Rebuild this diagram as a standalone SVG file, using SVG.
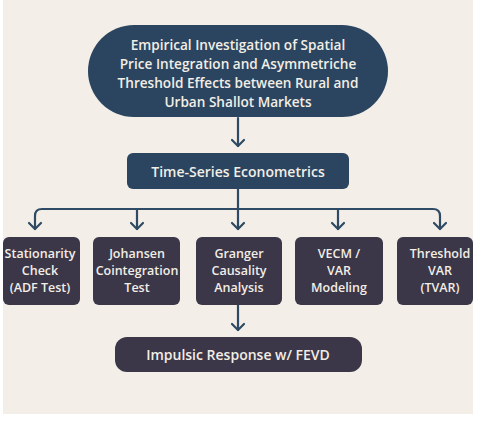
<svg xmlns="http://www.w3.org/2000/svg" width="480" height="421" viewBox="0 0 480 421">
<defs>
<style>
.t{font-family:"Open Sans","Noto Sans","Liberation Sans",sans-serif;font-weight:600;fill:#f2eee6;text-anchor:middle}
.navy{fill:#2b4560}
.purp{fill:#3b3648}
.c{fill:none;stroke:#2e4a64;stroke-width:2.2;stroke-linecap:round;stroke-linejoin:round}
</style>
</defs>
<rect x="0" y="0" width="480" height="421" fill="#ffffff"/>
<rect x="3" y="0" width="470" height="414" fill="#f3efe8"/>
<g id="connectors">
<path class="c" d="M238,118 V146"/>
<path class="c" d="M232,140 L238,146 L244,140"/>
<path class="c" d="M238,189 V209"/>
<path class="c" d="M35,229 V216 Q35,209 42,209 H433 Q440,209 440,216 V229"/>
<path class="c" d="M137,209 V229"/>
<path class="c" d="M238,209 V229"/>
<path class="c" d="M338,209 V229"/>
<path class="c" d="M29,223 L35,229 L41,223"/>
<path class="c" d="M131,223 L137,229 L143,223"/>
<path class="c" d="M232,223 L238,229 L244,223"/>
<path class="c" d="M332,223 L338,229 L344,223"/>
<path class="c" d="M434,223 L440,229 L446,223"/>
<path class="c" d="M238,305 V330"/>
<path class="c" d="M232,324 L238,330 L244,324"/>
</g>
<g id="title">
<rect class="navy" x="88" y="25" width="300" height="92" rx="46"/>
<text class="t" font-size="13.6"><tspan x="238" y="50">Empirical Investigation of Spatial</tspan><tspan x="238" y="69">Price Integration and Asymmetriche</tspan><tspan x="238" y="88">Threshold Effects between Rural and</tspan><tspan x="238" y="107">Urban Shallot Markets</tspan></text>
</g>
<g id="tse">
<rect class="navy" x="127" y="153" width="222" height="36" rx="6"/>
<text class="t" x="238" y="177" font-size="14">Time-Series Econometrics</text>
</g>
<g id="stationarity">
<rect class="purp" x="3" y="237" width="77" height="68" rx="6"/>
<text class="t" font-size="12.5"><tspan x="40" y="258">Stationarity</tspan><tspan x="40" y="275">Check</tspan><tspan x="40" y="292">(ADF Test)</tspan></text>
</g>
<g id="johansen">
<rect class="purp" x="93" y="237" width="87" height="68" rx="6"/>
<text class="t" font-size="12.5"><tspan x="137" y="258">Johansen</tspan><tspan x="137" y="275">Cointegration</tspan><tspan x="137" y="292">Test</tspan></text>
</g>
<g id="granger">
<rect class="purp" x="196" y="237" width="86" height="68" rx="6"/>
<text class="t" font-size="12.5"><tspan x="239" y="258">Granger</tspan><tspan x="239" y="275">Causality</tspan><tspan x="239" y="292">Analysis</tspan></text>
</g>
<g id="vecm">
<rect class="purp" x="295" y="237" width="88" height="68" rx="6"/>
<text class="t" font-size="12.5"><tspan x="339" y="258">VECM /</tspan><tspan x="339" y="275">VAR</tspan><tspan x="339" y="292">Modeling</tspan></text>
</g>
<g id="tvar">
<rect class="purp" x="397" y="237" width="76" height="68" rx="6"/>
<text class="t" font-size="12.5"><tspan x="440" y="258">Threshold</tspan><tspan x="440" y="275">VAR</tspan><tspan x="440" y="292">(TVAR)</tspan></text>
</g>
<g id="impulse">
<rect class="purp" x="115" y="337" width="247" height="35" rx="12"/>
<text class="t" x="238" y="360" font-size="14">Impulsic Response w/ FEVD</text>
</g>
</svg>
